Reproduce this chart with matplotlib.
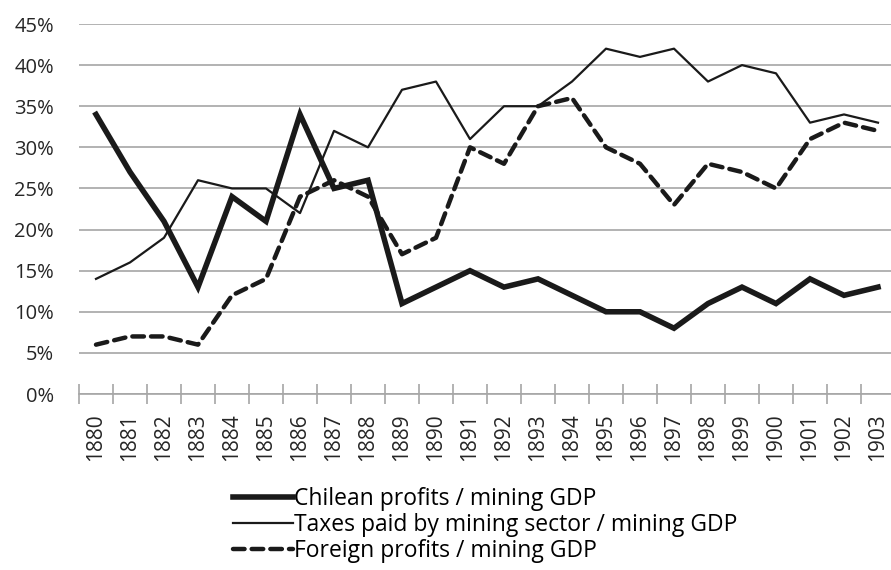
import matplotlib
matplotlib.use("Agg")
import matplotlib.pyplot as plt
from matplotlib.ticker import FixedLocator, FuncFormatter

plt.rcParams['font.family'] = ['Open Sans', 'DejaVu Sans']

years = [str(y) for y in range(1880, 1904)]
chilean = [34, 27, 21, 13, 24, 21, 34, 25, 26, 11, 13, 15,
           13, 14, 12, 10, 10, 8, 11, 13, 11, 14, 12, 13]
taxes = [14, 16, 19, 26, 25, 25, 22, 32, 30, 37, 38, 31,
         35, 35, 38, 42, 41, 42, 38, 40, 39, 33, 34, 33]
foreign = [6, 7, 7, 6, 12, 14, 24, 26, 24, 17, 19, 30,
           28, 35, 36, 30, 28, 23, 28, 27, 25, 31, 33, 32]

W, H = 891, 570
fig = plt.figure(figsize=(W / 100, H / 100), dpi=100)
# axes in pixel terms: left edge 79, bottom axis at y=394, 45% at y=24
ax = fig.add_axes([79 / W, 1 - 394 / H, (W - 79) / W, (394 - 24) / H])

x = list(range(len(years)))
ax.plot(x, chilean, color='#1a1a1a', lw=4.0, solid_joinstyle='miter',
        label='Chilean profits / mining GDP')
ax.plot(x, taxes, color='#1a1a1a', lw=1.6,
        label='Taxes paid by mining sector / mining GDP')
ax.plot(x, foreign, color='#1a1a1a', lw=3.2, dashes=(2.6, 1.6),
        dash_capstyle='round', label='Foreign profits / mining GDP')

ax.set_ylim(0, 45)
ax.set_xlim(-0.5, 23.5 - 4 / 34)
ax.set_yticks(range(0, 50, 5))
ax.yaxis.set_major_formatter(FuncFormatter(lambda v, p: f'{int(v)}%'))
ax.tick_params(axis='y', length=0, pad=18, labelsize=14.5, colors='#262626')
ax.grid(axis='y', color='#a6a6a6', lw=1.2)
ax.set_axisbelow(True)

ax.xaxis.set_major_locator(FixedLocator([i - 0.5 for i in range(len(years))]))
ax.xaxis.set_minor_locator(FixedLocator(x))
ax.set_xticklabels([])
ax.set_xticklabels(years, minor=True, rotation=90)
ax.tick_params(axis='x', which='major', direction='inout', length=15,
               width=1.2, color='#a6a6a6')
ax.tick_params(axis='x', which='minor', length=0, pad=14, labelsize=15,
               labelcolor='#262626')

for s in ['top', 'right', 'left']:
    ax.spines[s].set_visible(False)
ax.spines['bottom'].set_color('#a6a6a6')
ax.spines['bottom'].set_linewidth(1.2)

fig.legend(loc='upper left', bbox_to_anchor=(224 / W, 1 - 478 / H),
           frameon=False, fontsize=16.5, handlelength=2.6, handletextpad=0.05,
           labelspacing=0.08, borderaxespad=0)

fig.savefig('out.png', dpi=100)
